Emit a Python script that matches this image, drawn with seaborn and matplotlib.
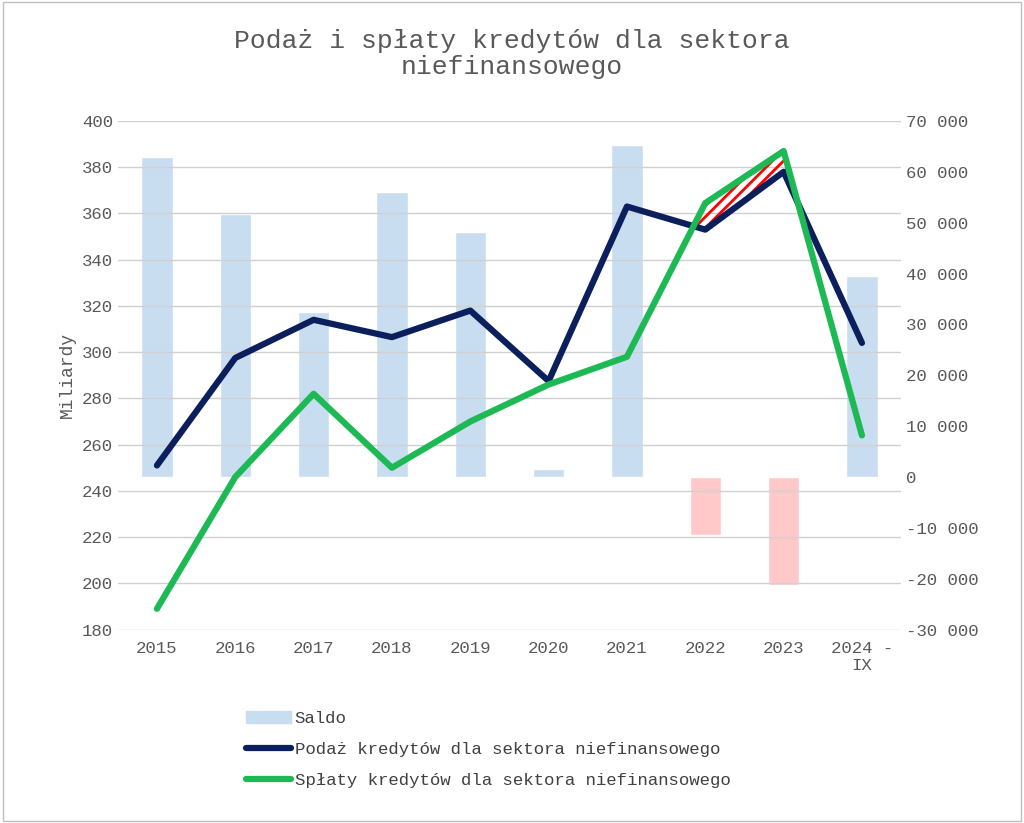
import numpy as np
import pandas as pd
import matplotlib
matplotlib.use("Agg")
import matplotlib.pyplot as plt
import seaborn as sns

years = ["2015", "2016", "2017", "2018", "2019", "2020", "2021", "2022", "2023", "2024 -\nIX"]
podaz = [251, 297.5, 314, 306.5, 318, 287.5, 363, 353, 378, 304]
splaty = [189, 246, 282, 250, 270, 286, 298, 364.5, 387, 264]
saldo = [62900, 51700, 32400, 56000, 48100, 1600, 65200, -11400, -21200, 39500]

sns.set_style("white")
font = "Liberation Mono"
plt.rcParams["font.family"] = font
plt.rcParams["hatch.linewidth"] = 2.0

fig = plt.figure(figsize=(10.24, 8.23), dpi=100)
axb = fig.add_axes([0.115, 0.235, 0.765, 0.618])
ax = axb.twinx()
axb.yaxis.tick_right()
ax.yaxis.tick_left()
ax.yaxis.set_label_position("left")

df = pd.DataFrame({"year": years, "saldo": saldo, "podaz": podaz, "splaty": splaty})
df["x"] = np.arange(len(years))
cols = ["#c9ddf0" if v >= 0 else "#ffc9c9" for v in saldo]
sns.barplot(data=df, x="year", y="saldo", hue="year", palette=cols, legend=False,
            ax=axb, width=0.4, saturation=1)
axb.set_ylim(-30000, 70000)
ticks_r = list(range(-30000, 70001, 10000))
axb.set_yticks(ticks_r)
axb.set_yticklabels([f"{v:,}".replace(",", " ") if v != 0 else "0" for v in ticks_r])
axb.set_xlabel(""); axb.set_ylabel("")

ax.set_ylim(180, 400)
ax.set_yticks(np.arange(180, 401, 20))
ax.grid(axis="y", color="#d0d0d0", lw=1)
axb.grid(False)
sns.lineplot(data=df, x="x", y="podaz", ax=ax, color="#0b1f5c", lw=4.5, legend=False)
sns.lineplot(data=df, x="x", y="splaty", ax=ax, color="#1db954", lw=4.5, legend=False)
p = np.array(podaz); s = np.array(splaty)
ax.fill_between(df["x"], p, s, where=s > p, interpolate=True, facecolor="none",
                edgecolor="red", hatch="///", lw=0)
ax.set_xlim(-0.5, len(years) - 0.5)
ax.set_xlabel(""); ax.set_ylabel("Miliardy", fontsize=13, color="#595959")

for a in (ax, axb):
    for sp in a.spines.values():
        sp.set_visible(False)
    a.tick_params(length=0, labelsize=12.5, colors="#595959")
ax.set_xticks(range(len(years)))
ax.set_xticklabels(years)
ax.tick_params(axis="x", pad=8)
axb.tick_params(axis="x", pad=8)

from matplotlib.patches import Patch
from matplotlib.lines import Line2D
handles = [Patch(color="#c9ddf0"),
           Line2D([], [], color="#0b1f5c", lw=4.5),
           Line2D([], [], color="#1db954", lw=4.5)]
labels = ["Saldo", "Podaż kredytów dla sektora niefinansowego", "Spłaty kredytów dla sektora niefinansowego"]
fig.legend(handles, labels, loc="upper left", bbox_to_anchor=(0.225, 0.155), frameon=False,
           fontsize=12.5, labelcolor="#404040", handlelength=2.6, handletextpad=0.2, labelspacing=0.9)

fig.text(0.5, 0.965, "Podaż i spłaty kredytów dla sektora\nniefinansowego", ha="center", va="top",
         fontsize=19, color="#595959", linespacing=1.1)
fig.patches.append(plt.Rectangle((0.003, 0.003), 0.994, 0.994, transform=fig.transFigure,
                                 fill=False, edgecolor="#bfbfbf", lw=1))
fig.savefig("out.png", dpi=100)
